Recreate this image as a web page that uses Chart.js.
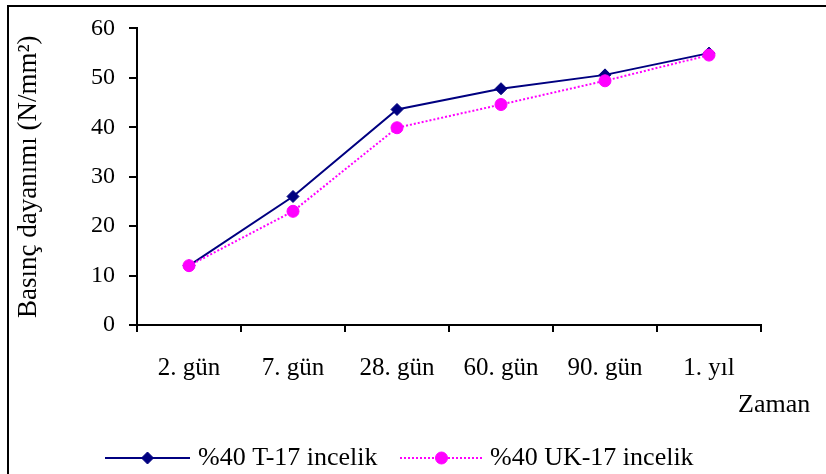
<!DOCTYPE html>
<html lang="tr">
<head>
  <meta charset="UTF-8" />
  <title>Basınç dayanımı</title>
  <script src="https://cdn.jsdelivr.net/npm/chart.js"></script>
  <style>
    html, body { margin: 0; padding: 0; background: #fff; overflow: hidden; }
    #wrap { position: relative; width: 826px; height: 474px; overflow: hidden; }
    /* frame of the original figure, cut at right and bottom */
    #frame { position: absolute; left: 7px; top: 5px; width: 900px; height: 600px; border: 2px solid #000; }
    canvas { position: absolute; left: 0; top: 0; }
  </style>
</head>
<body>
  <div id="wrap">
    <div id="frame"></div>
    <canvas id="chart" width="826" height="474"></canvas>
  </div>

  <script>
    // Data
    const categories = ['2. gün', '7. gün', '28. gün', '60. gün', '90. gün', '1. yıl'];
    const t17 = [12, 26, 43.6, 47.8, 50.6, 55];
    const uk17 = [12, 23, 39.9, 44.6, 49.4, 54.6];
    const seriesNames = ['%40 T-17 incelik', '%40 UK-17 incelik'];
    const yTicks = [0, 10, 20, 30, 40, 50, 60];

    const FONT = 'Liberation Serif, Times New Roman, serif';

    // Legend with line + marker, and the "Zaman" label
    const extras = {
      id: 'extras',
      afterDraw(chart) {
        const ctx = chart.ctx;
        const ds = chart.data.datasets;
        const y = 458;
        const items = [
          { ds: ds[0], x0: 105, x1: 190, tx: 198 },
          { ds: ds[1], x0: 400, x1: 483, tx: 490 }
        ];
        ctx.save();
        items.forEach(it => {
          ctx.strokeStyle = it.ds.borderColor;
          ctx.lineWidth = it.ds.borderWidth;
          ctx.setLineDash(it.ds.borderDash || []);
          ctx.beginPath();
          ctx.moveTo(it.x0, y);
          ctx.lineTo(it.x1, y);
          ctx.stroke();
          ctx.setLineDash([]);
          ctx.fillStyle = it.ds.pointBackgroundColor;
          ctx.strokeStyle = it.ds.pointBorderColor;
          ctx.lineWidth = 1;
          Chart.helpers.drawPoint(ctx, {
            pointStyle: it.ds.pointStyle,
            radius: it.ds.pointRadius,
            borderWidth: 1
          }, (it.x0 + it.x1) / 2, y);
          ctx.fillStyle = '#000';
          ctx.font = '26px ' + FONT;
          ctx.textBaseline = 'middle';
          ctx.textAlign = 'left';
          ctx.fillText(it.ds.label, it.tx, y);
        });
        ctx.font = '26px ' + FONT;
        ctx.textAlign = 'left';
        ctx.textBaseline = 'middle';
        ctx.fillText('Zaman', 738, 405);
        ctx.restore();
      }
    };

    const ctx = document.getElementById('chart').getContext('2d');
    new Chart(ctx, {
      type: 'line',
      data: {
        labels: categories,
        datasets: [
          {
            label: seriesNames[0],
            data: t17,
            borderColor: '#000080',
            backgroundColor: '#000080',
            borderWidth: 2,
            pointStyle: 'rectRot',
            pointRadius: 6,
            pointBorderWidth: 1,
            pointBackgroundColor: '#000080',
            pointBorderColor: '#000080',
            tension: 0,
            order: 1
          },
          {
            label: seriesNames[1],
            data: uk17,
            borderColor: '#ff00ff',
            backgroundColor: '#ff00ff',
            borderWidth: 2,
            borderDash: [2, 2],
            pointStyle: 'circle',
            pointRadius: 6,
            pointBorderWidth: 1,
            pointBackgroundColor: '#ff00ff',
            pointBorderColor: '#ff00ff',
            tension: 0,
            order: 0
          }
        ]
      },
      options: {
        responsive: false,
        animation: false,
        events: [],
        layout: { padding: { left: 0, top: 24, right: 65, bottom: 0 } },
        plugins: {
          legend: { display: false },
          tooltip: { enabled: false }
        },
        scales: {
          x: {
            type: 'category',
            offset: true,
            grid: {
              display: true,
              offset: true,
              drawOnChartArea: false,
              drawTicks: true,
              tickLength: 7,
              color: '#000',
              lineWidth: 2
            },
            border: { display: true, color: '#000', width: 2 },
            ticks: {
              color: '#000',
              font: { family: FONT, size: 25 },
              padding: 21,
              maxRotation: 0,
              autoSkip: false
            },
            afterFit(scale) { scale.height = 149; }
          },
          y: {
            min: 0,
            max: 60,
            afterBuildTicks(scale) { scale.ticks = yTicks.map(v => ({ value: v })); },
            grid: {
              display: true,
              drawOnChartArea: false,
              drawTicks: true,
              tickLength: 8,
              color: '#000',
              lineWidth: 2
            },
            border: { display: true, color: '#000', width: 2 },
            ticks: {
              color: '#000',
              font: { family: FONT, size: 24 },
              padding: 14
            },
            title: {
              display: true,
              text: 'Basınç dayanımı (N/mm²)',
              color: '#000',
              font: { family: FONT, size: 27 },
              padding: { top: 13, bottom: 0 }
            },
            afterFit(scale) { scale.width = 137; }
          }
        }
      },
      plugins: [extras]
    });
  </script>
</body>
</html>
